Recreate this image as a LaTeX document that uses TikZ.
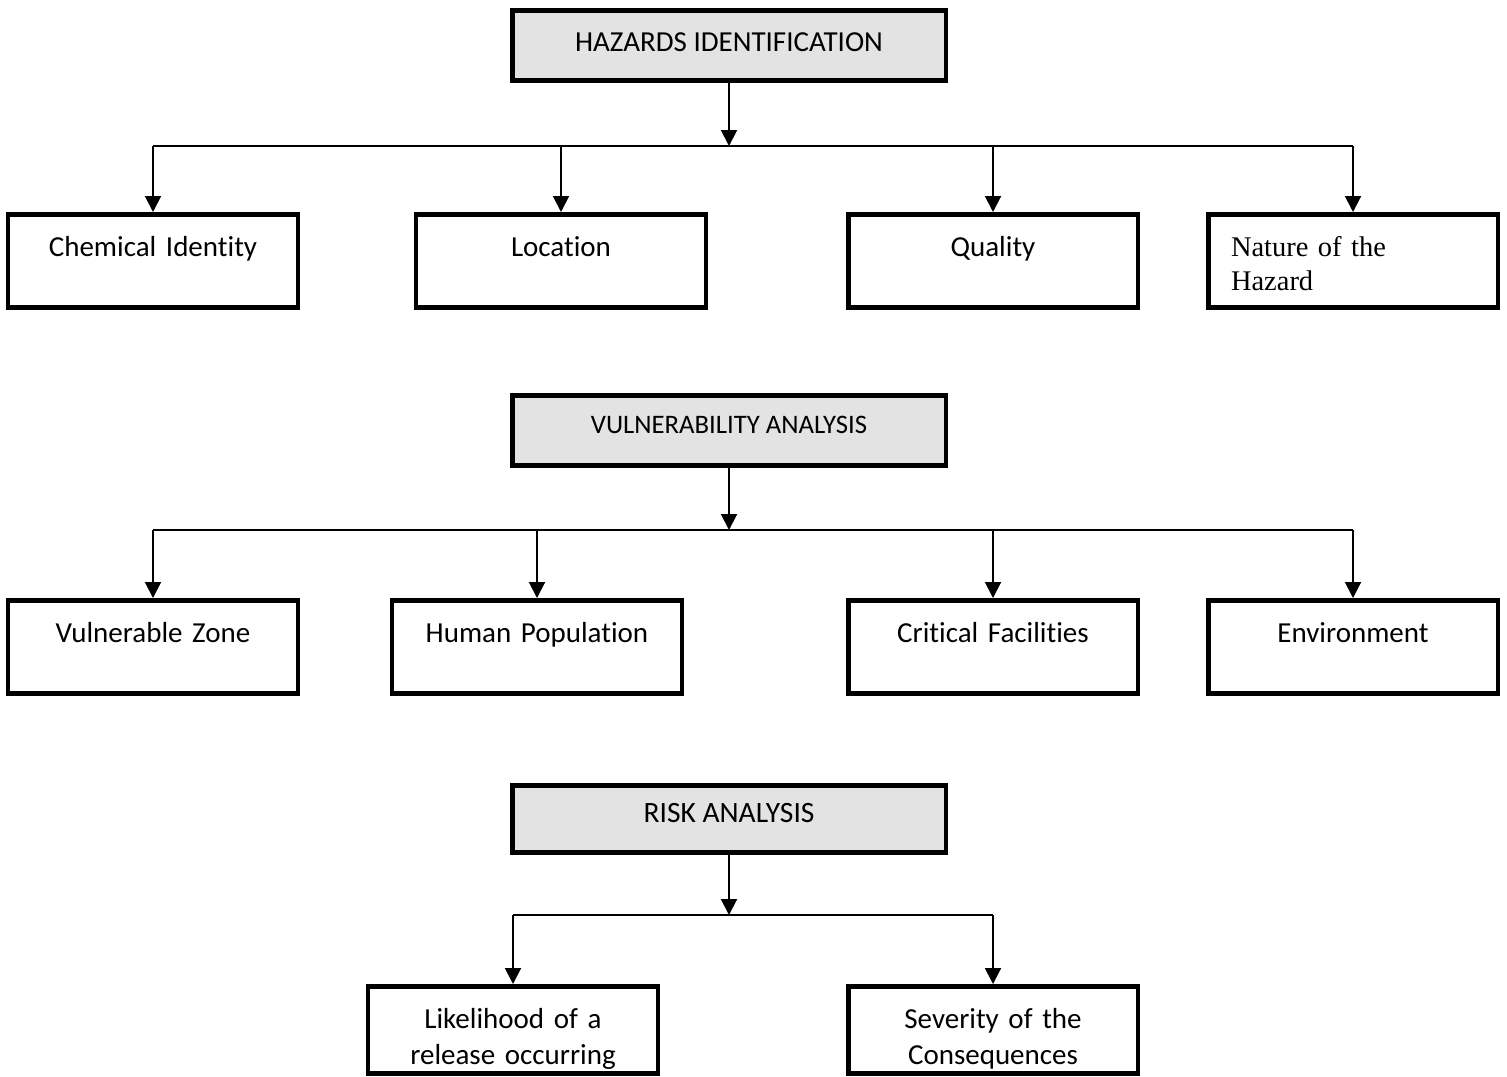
\documentclass[tikz,border=0pt]{standalone}
\usepackage{fontspec}
\setmainfont{Carlito}[Ligatures=NoCommon]
\newfontfamily\timesfont{Liberation Serif}
\usepackage{tikz}
\usetikzlibrary{arrows.meta,positioning}
\usepackage{xcolor}
\definecolor{headgray}{RGB}{227,227,227}

\tikzset{
  headbox/.style={draw, line width=2.8pt, fill=headgray, minimum width=8.68cm,
    inner sep=0pt, anchor=north},
  itembox/.style={draw, line width=2.8pt, minimum width=5.8cm, inner sep=0pt,
    text width=5.6cm, text height=24pt, text depth=29pt, anchor=north, align=center,
    font=\fontsize{16.5}{20.5}\selectfont},
  link/.style={line width=1.1pt},
  linkarrow/.style={link, -{Triangle[width=9pt,length=9pt]}},
}

\begin{document}
\begin{tikzpicture}[x=0.02cm,y=-0.02cm]
                    \useasboundingbox (0,0) rectangle (1507,1076);
                    % hazards identification
                    \node[headbox, text height=23.6pt, text depth=16.1pt,
                        font=\fontsize{16.5}{19}\selectfont] (haz) at (729,8) {HAZARDS IDENTIFICATION};
                    \coordinate (hazbar) at (729,146);
                    \node[itembox] (chem) at (153,212) {Chemical Identity};
                    \node[itembox] (loc) at (561,212) {Location};
                    \node[itembox] (qual) at (993,212) {Quality};
                    \node[itembox, align=left, text width=4.88cm,
                        font=\timesfont\fontsize{16.2}{19.3}\selectfont] (nat) at (1353,212) {Nature of the\\Hazard};
                    \draw[linkarrow] (haz.south) -- (hazbar);
                    \draw[link] (chem.north |- hazbar) -- (nat.north |- hazbar);
                    \foreach \n in {chem,loc,qual,nat}
                        \draw[linkarrow] (\n.north |- hazbar) -- (\n.north);
                    % vulnerability analysis
                    \node[headbox, text height=21.4pt, text depth=18.3pt,
                        font=\fontsize{15.2}{18}\selectfont] (vul) at (729,393) {VULNERABILITY ANALYSIS};
                    \coordinate (vulbar) at (729,530);
                    \node[itembox] (zone) at (153,598) {Vulnerable Zone};
                    \node[itembox] (pop) at (537,598) {Human Population};
                    \node[itembox] (crit) at (993,598) {Critical Facilities};
                    \node[itembox] (env) at (1353,598) {Environment};
                    \draw[linkarrow] (vul.south) -- (vulbar);
                    \draw[link] (zone.north |- vulbar) -- (env.north |- vulbar);
                    \foreach \n in {zone,pop,crit,env}
                        \draw[linkarrow] (\n.north |- vulbar) -- (\n.north);
                    % risk analysis
                    \node[headbox, text height=21pt, text depth=17pt,
                        font=\fontsize{16.8}{19}\selectfont] (risk) at (729,783) {RISK ANALYSIS};
                    \coordinate (riskbar) at (729,915);
                    \node[itembox, text depth=25.3pt] (like) at (513,984) {Likelihood of a\\release occurring};
                    \node[itembox, text depth=25.3pt] (sev) at (993,984) {Severity of the\\Consequences};
                    \draw[linkarrow] (risk.south) -- (riskbar);
                    \draw[link] (like.north |- riskbar) -- (sev.north |- riskbar);
                    \foreach \n in {like,sev}
                        \draw[linkarrow] (\n.north |- riskbar) -- (\n.north);
                \end{tikzpicture}
\end{document}
